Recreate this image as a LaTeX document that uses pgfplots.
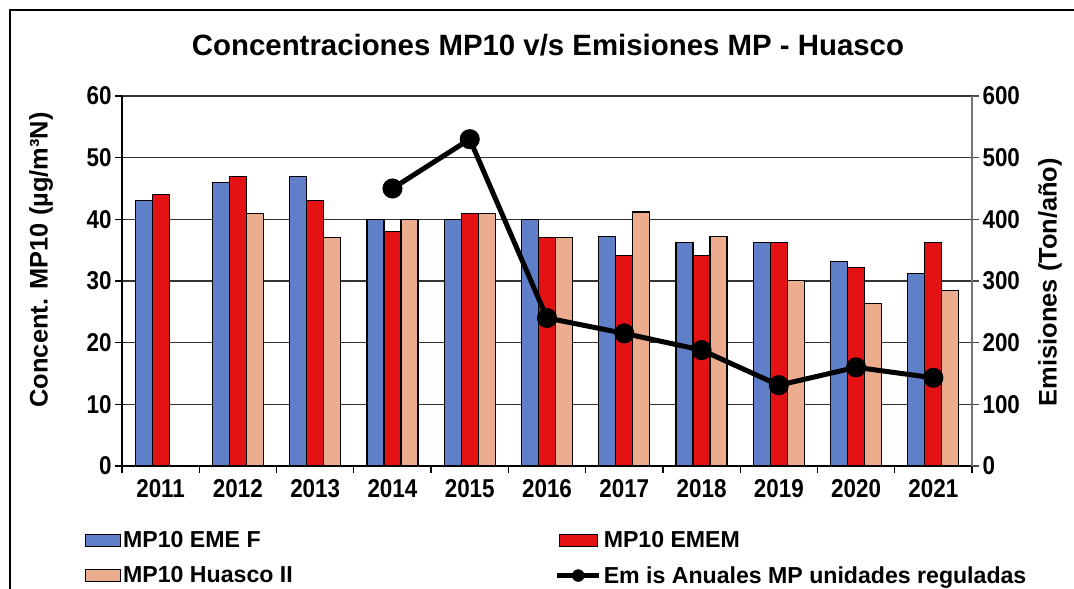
\documentclass[border=0pt]{standalone}
\usepackage{pgfplots}
\pgfplotsset{compat=1.18}
\usepackage{fontspec}
\setmainfont{Liberation Sans}
\definecolor{cblue}{RGB}{95,128,200}
\definecolor{cred}{RGB}{228,18,20}
\definecolor{cpeach}{RGB}{236,172,142}
\newcommand{\tickfont}{\fontsize{22.5}{22.5}\selectfont\bfseries}
\newcommand{\labfont}{\fontsize{25.5}{27}\selectfont\bfseries}
\newcommand{\legfont}{\fontsize{23.2}{25}\selectfont\bfseries}
\begin{document}
\begin{tikzpicture}[x=1bp,y=1bp]
\useasboundingbox (0,0) rectangle (1074,589);
\draw[line width=2bp] (10,-5) -- (10,579) -- (1080,579);
\node[font=\fontsize{29.5}{31}\selectfont\bfseries] at (548,544) {Concentraciones MP10 v/s Emisiones MP - Huasco};
\begin{axis}[
  at={(122bp,123bp)}, anchor=south west,
  scale only axis, width=850bp, height=370bp,
  xmin=-0.5, xmax=10.5, ymin=0, ymax=60,
  axis lines*=left,
  axis line style={black, line width=1.2bp},
  ytick={0,10,...,60},
  xtick={0,...,10},
  xticklabels={2011,2012,2013,2014,2015,2016,2017,2018,2019,2020,2021},
  minor xtick={-0.5,0.5,...,10.5},
  major x tick style={draw=none},
  minor x tick style={black, line width=1.2bp},
  y tick style={black, line width=1.2bp},
  tick align=outside,
  major tick length=7bp, minor tick length=7bp,
  ymajorgrids,
  grid style={draw=black!80, line width=1.2bp},
  /pgf/number format/assume math mode=true,
  tick label style={font=\tickfont, yscale=1.15},
  xticklabel style={yshift=-2bp},
  ylabel={Concent. MP10 (µg/m³N)},
  ylabel style={at={(axis description cs:-0.0953,0.557)}, anchor=center, font=\labfont},
  legend columns=2,
  legend style={at={(axis description cs:-0.0435,-0.172)}, anchor=north west,
    draw=none, fill=none, font=\legfont, inner sep=0pt,
    /tikz/every even column/.append style={column sep=260bp},
    row sep=13bp,
    cells={anchor=west}},
]
\addplot[ybar, bar width=17bp, bar shift=-17bp, fill=cblue, draw=black, line width=1.2bp,
  legend image code/.code={\draw[fill=cblue, draw=black, line width=1bp] (0bp,-6bp) rectangle (35bp,6bp);}]
  coordinates {(0,43)(1,46)(2,47)(3,40)(4,40)(5,40)(6,37.2)(7,36.3)(8,36.3)(9,33.2)(10,31.2)};
\addlegendentry{MP10 EME F}
\addplot[ybar, bar width=17bp, bar shift=0bp, fill=cred, draw=black, line width=1.2bp,
  legend image code/.code={\draw[fill=cred, draw=black, line width=1bp] (2bp,-6bp) rectangle (40bp,6bp);}]
  coordinates {(0,44)(1,47)(2,43)(3,38)(4,41)(5,37)(6,34.1)(7,34.1)(8,36.3)(9,32.2)(10,36.3)};
\addlegendentry{MP10 EMEM}
\addplot[ybar, bar width=17bp, bar shift=17bp, fill=cpeach, draw=black, line width=1.2bp,
  legend image code/.code={\draw[fill=cpeach, draw=black, line width=1bp] (0bp,-6bp) rectangle (35bp,6bp);}]
  coordinates {(1,41)(2,37)(3,40)(4,41)(5,37)(6,41.2)(7,37.2)(8,30.1)(9,26.4)(10,28.4)};
\addlegendentry{MP10 Huasco II}
\addlegendimage{legend image code/.code={\draw[black, line width=5bp] (0bp,0bp) -- (42bp,0bp); \fill[black] (21bp,0bp) circle (6bp);}}
\addlegendentry{Em is Anuales MP unidades reguladas}
\end{axis}
\begin{axis}[
  at={(122bp,123bp)}, anchor=south west,
  scale only axis, width=850bp, height=370bp,
  xmin=-0.5, xmax=10.5, ymin=0, ymax=600,
  axis y line*=right, axis x line=none,
  axis line style={black!55, line width=1.2bp},
  ytick={0,100,...,600},
  y tick style={black!70, line width=1.2bp},
  tick align=outside, major tick length=7bp,
  /pgf/number format/assume math mode=true,
  tick label style={font=\tickfont, yscale=1.15},
  ylabel={Emisiones (Ton/año)},
  ylabel style={at={(axis description cs:1.0918,0.497)}, anchor=center, rotate=0, font=\labfont},
]
\addplot[black, line width=5bp, mark=*, mark size=7.5bp] coordinates {(3,450)(4,530)(5,240)(6,215)(7,188)(8,131)(9,160)(10,143)};
\end{axis}
\end{tikzpicture}
\end{document}
